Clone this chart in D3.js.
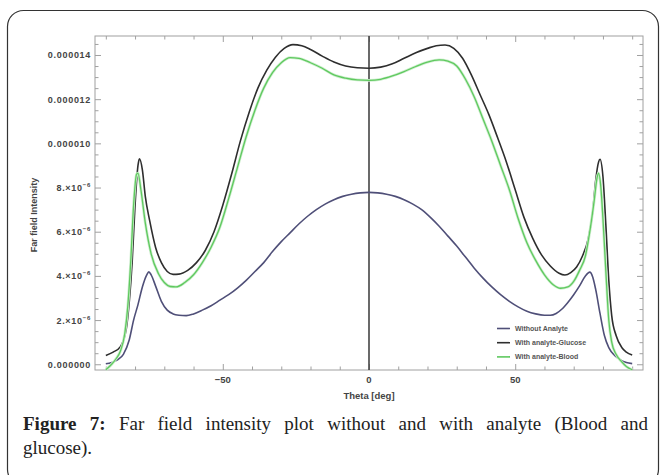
<!DOCTYPE html>
<html>
<head>
<meta charset="utf-8">
<script src="https://cdn.jsdelivr.net/npm/d3@7"></script>
<style>
  body { margin: 0; background: #fff; }
</style>
</head>
<body>
<div id="chart"></div>
<script>
// values: theta in degrees, intensity in units of 1e-6
const thetaNone = [-90, -88, -86, -84, -82, -80.5, -79, -77.5, -76, -75.3, -74.5, -73, -71, -69, -67, -65, -62.5, -60, -57, -54, -51, -48, -45, -42, -39, -36, -33, -30, -27, -24, -21, -18, -15, -12, -9, -6, -3, 0,
                   3, 6, 9, 12, 15, 18, 21, 24, 27, 30, 33, 36, 39, 42, 45, 48, 51, 54, 57, 60, 62, 64, 66, 68, 70, 72, 74, 75.5, 76.5, 77.5, 79, 80.5, 82, 84, 86, 88, 90];
const valNone = [0.02, 0.08, 0.2, 0.45, 1.1, 2.0, 2.7, 3.5, 4.05, 4.18, 4.05, 3.55, 2.85, 2.45, 2.28, 2.22, 2.2, 2.28, 2.45, 2.65, 2.9, 3.15, 3.45, 3.8, 4.2, 4.6, 5.1, 5.55, 5.95, 6.35, 6.7, 7.0, 7.25, 7.45, 7.6, 7.7, 7.76, 7.78,
                 7.76, 7.7, 7.6, 7.45, 7.25, 7.0, 6.65, 6.25, 5.8, 5.35, 4.85, 4.35, 3.9, 3.5, 3.15, 2.85, 2.6, 2.4, 2.28, 2.22, 2.22, 2.3, 2.5, 2.8, 3.15, 3.55, 4.0, 4.17, 3.95, 3.4, 2.3, 1.3, 0.75, 0.4, 0.2, 0.08, 0.03];

const thetaGlucose = [-90, -87.5, -85, -83, -82, -81, -80, -79, -78.5, -77.5, -76.5, -75, -73, -71, -69, -67, -65, -62, -59, -56, -53, -50, -47, -44, -41, -38, -35, -32, -29, -26, -23, -20, -16, -12, -8, -4, 0,
                      4, 8, 12, 16, 20, 23, 26, 29, 32, 35, 38, 41, 44, 47, 50, 53, 56, 59, 62, 65, 67, 69, 71, 73, 75, 76.5, 77.5, 78.5, 79, 80, 81, 82, 83, 84.5, 86.5, 88, 90];
const valGlucose = [0.4, 0.55, 0.8, 1.6, 2.8, 4.6, 7.2, 9.0, 9.3, 8.8, 7.6, 6.5, 5.3, 4.6, 4.2, 4.07, 4.08, 4.25, 4.6, 5.15, 6.0, 7.2, 8.6, 10.1, 11.4, 12.5, 13.3, 13.9, 14.3, 14.47, 14.42, 14.25, 13.95, 13.68, 13.5, 13.42, 13.4,
                    13.45, 13.6, 13.85, 14.1, 14.3, 14.42, 14.45, 14.3, 13.85, 13.1, 12.2, 11.3, 10.25, 9.15, 7.9, 6.65, 5.7, 4.95, 4.45, 4.12, 4.04, 4.15, 4.4, 4.9, 5.7, 6.9, 8.3, 9.15, 9.28, 8.5, 6.3, 3.8, 2.2, 1.3, 0.75, 0.55, 0.42];

const thetaBlood = [-90, -88, -86.5, -85, -83.5, -82.5, -81.5, -80.5, -79.5, -79, -78, -76.5, -74.5, -72, -70, -68, -66, -63, -60, -57, -54, -51, -48, -45, -42, -39, -36, -33, -30, -27, -24, -20, -16, -12, -8, -4, 0,
                    4, 8, 12, 16, 20, 24, 27, 30, 33, 36, 39, 42, 45, 48, 51, 54, 57, 60, 63, 65.5, 68, 70, 72, 74, 75.5, 77, 78, 78.5, 79.3, 80, 81, 82, 83, 84.5, 86.5, 88, 90];
const valBlood = [-0.25, 0.0, 0.25, 0.6, 1.4, 2.6, 4.6, 7.2, 8.6, 8.65, 7.9, 6.4, 5.0, 4.1, 3.7, 3.52, 3.5, 3.7, 4.05, 4.6, 5.3, 6.2, 7.5, 8.9, 10.3, 11.5, 12.5, 13.2, 13.65, 13.88, 13.85, 13.65, 13.4, 13.1, 12.95, 12.87, 12.85,
                  12.9, 13.05, 13.25, 13.48, 13.68, 13.78, 13.72, 13.5, 12.9, 12.1, 11.1, 10.1, 9.0, 7.9, 6.6, 5.5, 4.7, 4.05, 3.6, 3.44, 3.5, 3.75, 4.25, 4.9, 6.0, 7.4, 8.45, 8.65, 8.0, 6.6, 4.2, 2.0, 1.0, 0.45, 0.1, -0.1, -0.25];

const seriesNames = ["Without Analyte", "With analyte-Glucose", "With analyte-Blood"];
const seriesColors = ["#4f4f78", "#2e2e2e", "#5fc95f"];

const xTicks = [-50, 0, 50];
const xTickLabels = ["\u221250", "0", "50"];
const yTicks = [0, 2, 4, 6, 8, 10, 12, 14];
const yTickLabels = ["0.000000", "2.\u00d710", "4.\u00d710", "6.\u00d710", "8.\u00d710", "0.000010", "0.000012", "0.000014"];

const width = 661, height = 475,
      margin = ({top: 36, right: 18, bottom: 105, left: 95});

let svg = d3.select("#chart")
    .append("svg")
    .attr("width", width)
    .attr("height", height)
    .style("font-family", "'Liberation Sans', Arial, sans-serif");

// rounded box around the figure
svg.append("rect")
    .attr("x", 7.5).attr("y", 10.5)
    .attr("width", 651).attr("height", 475)
    .attr("rx", 16)
    .attr("fill", "none")
    .attr("stroke", "#333")
    .attr("stroke-width", 1.2);

let x = d3.scaleLinear()
    .domain([-93.7, 93.7])
    .range([margin.left, width - margin.right]);

let y = d3.scaleLinear()
    .domain([-0.26, 14.86])
    .range([height - margin.bottom, margin.top]);

// frame with inward ticks on all four sides
const tickCol = "#a0a0a0";
const xMinor = d3.range(-90, 91, 10).filter(t => !xTicks.includes(t));
const yMinor = d3.range(0, 14.6, 0.5).filter(t => !yTicks.includes(t));

svg.append("rect")
    .attr("x", x.range()[0]).attr("y", y.range()[1])
    .attr("width", x.range()[1] - x.range()[0])
    .attr("height", y.range()[0] - y.range()[1])
    .attr("fill", "none")
    .attr("stroke", tickCol)
    .attr("stroke-width", 1);

const noDomain = g => g.select(".domain").remove();
const axes = [
    [d3.axisBottom(x).tickValues(xTicks).tickSize(-6), 0, y.range()[0]],
    [d3.axisTop(x).tickValues(xTicks).tickSize(-6), 0, y.range()[1]],
    [d3.axisBottom(x).tickValues(xMinor).tickSize(-3.5), 0, y.range()[0]],
    [d3.axisTop(x).tickValues(xMinor).tickSize(-3.5), 0, y.range()[1]],
    [d3.axisLeft(y).tickValues(yTicks).tickSize(-6), x.range()[0], 0],
    [d3.axisRight(y).tickValues(yTicks).tickSize(-6), x.range()[1], 0],
    [d3.axisLeft(y).tickValues(yMinor).tickSize(-3.5), x.range()[0], 0],
    [d3.axisRight(y).tickValues(yMinor).tickSize(-3.5), x.range()[1], 0]
];
axes.forEach(([ax, tx, ty]) => {
    svg.append("g")
        .attr("transform", `translate(${tx}, ${ty})`)
        .call(ax.tickFormat(""))
        .call(noDomain)
        .selectAll("line").attr("stroke", tickCol);
});

// tick labels
svg.append("g").selectAll("text")
    .data(xTicks)
    .join("text")
    .attr("x", d => x(d))
    .attr("y", y.range()[0] + 13)
    .attr("text-anchor", "middle")
    .style("font-size", "9.5px")
    .style("font-weight", "bold")
    .style("fill", "#444")
    .text((d, i) => xTickLabels[i]);

let yl = svg.append("g").selectAll("text")
    .data(yTicks)
    .join("text")
    .attr("x", x.range()[0] - 4)
    .attr("y", d => y(d) + 3.5)
    .attr("text-anchor", "end")
    .style("font-size", "9px")
    .style("font-weight", "bold")
    .style("letter-spacing", "0.7px")
    .style("fill", "#444");
yl.append("tspan").text((d, i) => yTickLabels[i]);
yl.filter(d => d > 0 && d < 10)
    .append("tspan")
    .attr("dy", -4)
    .style("font-size", "6px")
    .text("\u22126");

// axis titles
svg.append("text")
    .attr("x", x(0))
    .attr("y", y.range()[0] + 29)
    .attr("text-anchor", "middle")
    .style("font-size", "9.5px")
    .style("font-weight", "bold")
    .style("fill", "#444")
    .text("Theta [deg]");

svg.append("text")
    .attr("transform", `translate(37, 215) rotate(-90)`)
    .attr("text-anchor", "middle")
    .style("font-size", "9px")
    .style("font-weight", "bold")
    .style("fill", "#444")
    .text("Far field Intensity");

// vertical axis at theta = 0
svg.append("line")
    .attr("x1", x(0)).attr("x2", x(0))
    .attr("y1", y.range()[1]).attr("y2", y.range()[0])
    .attr("stroke", "#444")
    .attr("stroke-width", 1.6);

// curves
const series = [
    {theta: thetaNone, val: valNone},
    {theta: thetaGlucose, val: valGlucose},
    {theta: thetaBlood, val: valBlood}
];

let line = d3.line()
    .x(d => x(d[0]))
    .y(d => y(d[1]))
    .curve(d3.curveMonotoneX);

series.forEach((s, i) => {
    let pts = s.theta.map((t, j) => [t, s.val[j]]);
    if (i === 2) { // soft halo on the green line
        svg.append("path")
            .attr("d", line(pts))
            .attr("fill", "none")
            .attr("stroke", "#cdeecd")
            .attr("stroke-width", 2.8);
    }
    svg.append("path")
        .attr("d", line(pts))
        .attr("fill", "none")
        .attr("stroke", seriesColors[i])
        .attr("stroke-width", i === 2 ? 1.3 : 1.6);
});

// legend
let leg = svg.append("g").selectAll("g")
    .data(seriesNames)
    .join("g")
    .attr("transform", (d, i) => `translate(497, ${328.5 + i * 14.2})`);
leg.append("line")
    .attr("x1", 0).attr("x2", 13)
    .attr("stroke", (d, i) => seriesColors[i])
    .attr("stroke-width", 1.6);
leg.append("text")
    .attr("x", 18)
    .attr("y", 2.5)
    .style("font-size", "7px")
    .style("font-weight", "bold")
    .style("fill", "#555")
    .text(d => d);

// caption
const capFont = "'Liberation Serif', 'DejaVu Serif', serif";
let cap1 = svg.append("text")
    .attr("x", 23)
    .attr("y", 430)
    .style("font-family", capFont)
    .style("font-size", "19px")
    .style("fill", "#222");
cap1.append("tspan").style("font-weight", "bold").text("Figure 7:");
cap1.append("tspan").text(" Far field intensity plot without and with analyte (Blood and");
// justify first line to the right edge (11 spaces)
let w = cap1.node().getComputedTextLength();
cap1.attr("word-spacing", Math.max(0, (648 - 23 - w) / 11));

svg.append("text")
    .attr("x", 23)
    .attr("y", 454)
    .style("font-family", capFont)
    .style("font-size", "19px")
    .style("fill", "#222")
    .text("glucose).");
</script>
</body>
</html>
